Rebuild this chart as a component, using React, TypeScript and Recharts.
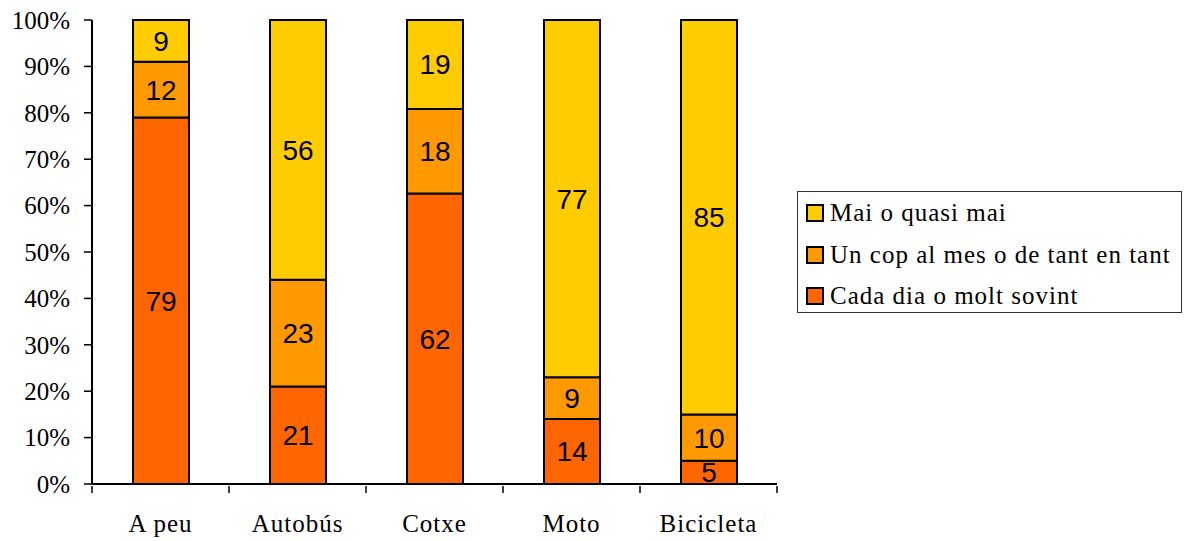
import { Bar, BarChart, LabelList, XAxis, YAxis } from "recharts";

const categories = ["A peu", "Autobús", "Cotxe", "Moto", "Bicicleta"];
const cadaDia = [79, 21, 62, 14, 5];
const unCop = [12, 23, 18, 9, 10];
const mai = [9, 56, 19, 77, 85];
const yTicks = [0, 0.1, 0.2, 0.3, 0.4, 0.5, 0.6, 0.7, 0.8, 0.9, 1];

const serif = '"Liberation Serif", "Times New Roman", serif';
const sans = '"Liberation Sans", Arial, sans-serif';

// legend order (top to bottom)
const legendItems = [
  { name: "Mai o quasi mai", color: "#FFCC00" },
  { name: "Un cop al mes o de tant en tant", color: "#FF9900" },
  { name: "Cada dia o molt sovint", color: "#FF6600" },
];

const data = categories.map((name, i) => ({
  name,
  cadaDia: cadaDia[i],
  unCop: unCop[i],
  mai: mai[i],
}));

const BAND = 137;

function XTick(props: any) {
  const { x, y, payload, index } = props;
  return (
    <g>
      <line x1={x - BAND / 2} y1={y} x2={x - BAND / 2} y2={y + 7} stroke="#000" strokeWidth={1.5} />
      {index === categories.length - 1 && (
        <line x1={x + BAND / 2} y1={y} x2={x + BAND / 2} y2={y + 7} stroke="#000" strokeWidth={1.5} />
      )}
      <text x={x} y={y + 46} textAnchor="middle" fill="#000" fontSize={25} fontFamily={serif} letterSpacing={1}>
        {payload.value}
      </text>
    </g>
  );
}

export default function App() {
  return (
    <div style={{ position: "absolute", left: 0, top: 0, width: 1187, height: 541, background: "#fff" }}>
      <BarChart
        width={1187}
        height={541}
        data={data}
        stackOffset="expand"
        margin={{ top: 20, right: 410, left: 12, bottom: 7 }}
      >
        <XAxis
          xAxisId="top"
          orientation="top"
          dataKey="name"
          height={0}
          tick={false}
          tickLine={false}
          axisLine={{ stroke: "#808080", strokeWidth: 2 }}
        />
        <YAxis
          yAxisId="right"
          orientation="right"
          width={0}
          tick={false}
          tickLine={false}
          axisLine={{ stroke: "#808080", strokeWidth: 2 }}
        />
        <XAxis
          dataKey="name"
          height={50}
          interval={0}
          tickSize={0}
          tickLine={false}
          axisLine={{ stroke: "#000", strokeWidth: 2 }}
          tick={<XTick />}
        />
        <YAxis
          width={80}
          domain={[0, 1]}
          ticks={yTicks}
          interval={0}
          tickSize={8}
          tickMargin={14}
          tickFormatter={(v: number) => `${Math.round(v * 100)}%`}
          axisLine={{ stroke: "#000", strokeWidth: 2 }}
          tickLine={{ stroke: "#000", strokeWidth: 1.5 }}
          tick={{ fill: "#000", fontSize: 25, fontFamily: serif }}
        />
        <Bar dataKey="cadaDia" stackId="a" fill="#FF6600" stroke="#000" strokeWidth={2} barSize={56} isAnimationActive={false}>
          <LabelList dataKey="cadaDia" position="center" fill="#000" fontSize={28} fontFamily={sans} />
        </Bar>
        <Bar dataKey="unCop" stackId="a" fill="#FF9900" stroke="#000" strokeWidth={2} barSize={56} isAnimationActive={false}>
          <LabelList dataKey="unCop" position="center" fill="#000" fontSize={28} fontFamily={sans} />
        </Bar>
        <Bar dataKey="mai" stackId="a" fill="#FFCC00" stroke="#000" strokeWidth={2} barSize={56} isAnimationActive={false}>
          <LabelList dataKey="mai" position="center" fill="#000" fontSize={28} fontFamily={sans} />
        </Bar>
      </BarChart>
      <div
        style={{
          position: "absolute",
          left: 797,
          top: 191,
          width: 385,
          height: 122,
          border: "1px solid #333",
          boxSizing: "border-box",
          background: "#fff",
        }}
      >
        {legendItems.map((item, i) => (
          <div
            key={item.name}
            style={{
              position: "absolute",
              left: 8,
              top: i * 41.5,
              height: 42,
              display: "flex",
              alignItems: "center",
              whiteSpace: "nowrap",
            }}
          >
            <span
              style={{
                display: "inline-block",
                width: 18,
                height: 18,
                boxSizing: "border-box",
                border: "2px solid #000",
                background: item.color,
                marginRight: 6,
              }}
            />
            <span style={{ fontFamily: serif, fontSize: 25, letterSpacing: 1, color: "#000" }}>{item.name}</span>
          </div>
        ))}
      </div>
    </div>
  );
}
